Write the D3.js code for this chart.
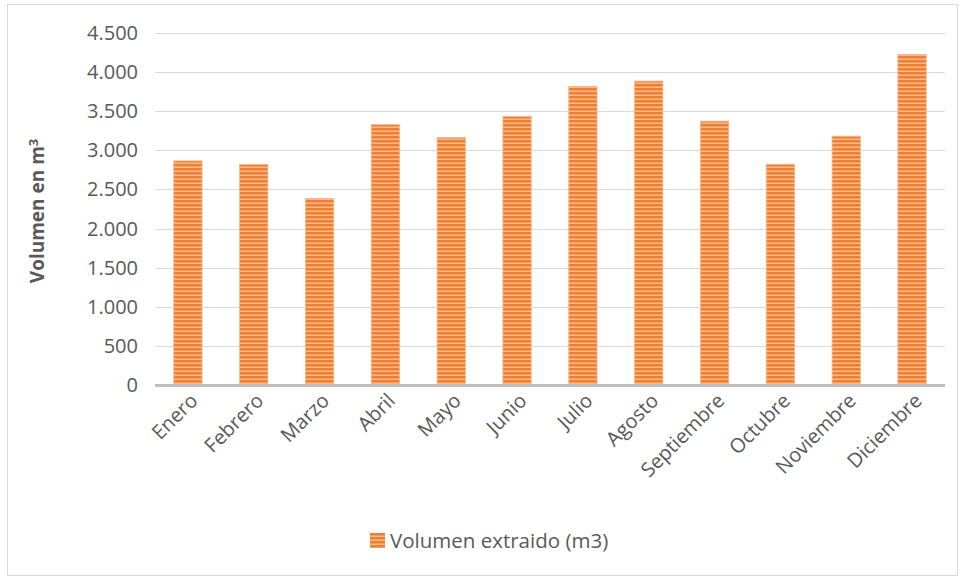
<!DOCTYPE html>
<html>
<head>
<meta charset="utf-8">
<script src="https://cdn.jsdelivr.net/npm/d3@7"></script>
<style>
  body { margin: 0; background: #fff; }
  #chart svg { display: block; font-family: "Open Sans", "Noto Sans", sans-serif; }
</style>
</head>
<body>
<div id="chart"></div>
<script>
// Monthly extracted volume (m3)
const months = ['Enero', 'Febrero', 'Marzo', 'Abril', 'Mayo', 'Junio', 'Julio', 'Agosto', 'Septiembre', 'Octubre', 'Noviembre', 'Diciembre'];
const volumes = [2865, 2818, 2385, 3328, 3162, 3433, 3818, 3885, 3373, 2822, 3180, 4225];
const yTicks = [0, 500, 1000, 1500, 2000, 2500, 3000, 3500, 4000, 4500];
const seriesName = 'Volumen extraido (m3)';

const width = 961;
const height = 579;
const margin = { top: 33, right: 16, bottom: 194, left: 155 };

const svg = d3.select('#chart').append('svg')
  .attr('width', width)
  .attr('height', height);

// Striped orange fill like the original
const defs = svg.append('defs');
const pat = defs.append('pattern')
  .attr('id', 'stripes')
  .attr('patternUnits', 'userSpaceOnUse')
  .attr('width', 8)
  .attr('height', 4);
pat.append('rect').attr('width', 8).attr('height', 4).attr('fill', '#F07F2E');
pat.append('rect').attr('y', 2.6).attr('width', 8).attr('height', 1.2).attr('fill', '#F9C9A6');

// Chart border
svg.append('rect')
  .attr('x', 7.5).attr('y', 4.5)
  .attr('width', 950).attr('height', 571)
  .attr('fill', 'none')
  .attr('stroke', '#d9d9d9')
  .attr('stroke-width', 1);

const x = d3.scaleBand()
  .domain(months)
  .range([margin.left, width - margin.right])
  .paddingInner(0.57)
  .paddingOuter(0.285);

const y = d3.scaleLinear()
  .domain([0, 4500])
  .range([height - margin.bottom, margin.top]);

// Gridlines
svg.append('g')
  .selectAll('line')
  .data(yTicks.slice(1))
  .join('line')
  .attr('x1', margin.left)
  .attr('x2', width - margin.right)
  .attr('y1', d => Math.round(y(d)) + 0.5)
  .attr('y2', d => Math.round(y(d)) + 0.5)
  .attr('stroke', '#d9d9d9')
  .attr('stroke-width', 1.2);

// Y tick labels
svg.append('g')
  .selectAll('text')
  .data(yTicks)
  .join('text')
  .attr('x', 138)
  .attr('y', d => y(d))
  .attr('dy', '0.35em')
  .attr('text-anchor', 'end')
  .attr('fill', '#595959')
  .style('font-size', '20px')
  .text(d => d3.format(',')(d).replace(/,/g, '.'));

// Y axis title
const yTitle = svg.append('text')
  .attr('transform', `translate(44,${(margin.top + y(0)) / 2 + 2}) rotate(-90)`)
  .attr('text-anchor', 'middle')
  .attr('fill', '#595959')
  .style('font-size', '19px')
  .style('font-weight', 'bold');
yTitle.append('tspan').text('Volumen en m');
yTitle.append('tspan').attr('dy', '-0.5em').style('font-size', '13px').text('3');

// Bars
svg.append('g')
  .selectAll('rect')
  .data(months)
  .join('rect')
  .attr('x', d => x(d))
  .attr('y', (d, i) => y(volumes[i]))
  .attr('width', x.bandwidth())
  .attr('height', (d, i) => y(0) - y(volumes[i]))
  .attr('fill', 'url(#stripes)')
  .attr('stroke', '#F6B48A')
  .attr('stroke-width', 0.8);

// Baseline axis
svg.append('line')
  .attr('x1', margin.left)
  .attr('x2', width - margin.right)
  .attr('y1', y(0) + 0.5)
  .attr('y2', y(0) + 0.5)
  .attr('stroke', '#bfbfbf')
  .attr('stroke-width', 3);

// X labels
svg.append('g')
  .selectAll('text')
  .data(months)
  .join('text')
  .attr('transform', d => `translate(${x(d) + x.bandwidth() / 2 + 11},${y(0) + 17}) rotate(-45)`)
  .attr('text-anchor', 'end')
  .attr('fill', '#595959')
  .style('font-size', '20px')
  .text(d => d);

// Legend
const legend = svg.append('g').attr('transform', 'translate(370,533)');
legend.append('rect')
  .attr('width', 15).attr('height', 15)
  .attr('fill', 'url(#stripes)');
legend.append('text')
  .attr('x', 20)
  .attr('y', 8)
  .attr('dy', '0.35em')
  .attr('fill', '#595959')
  .style('font-size', '20.5px')
  .text(seriesName);
</script>
</body>
</html>
